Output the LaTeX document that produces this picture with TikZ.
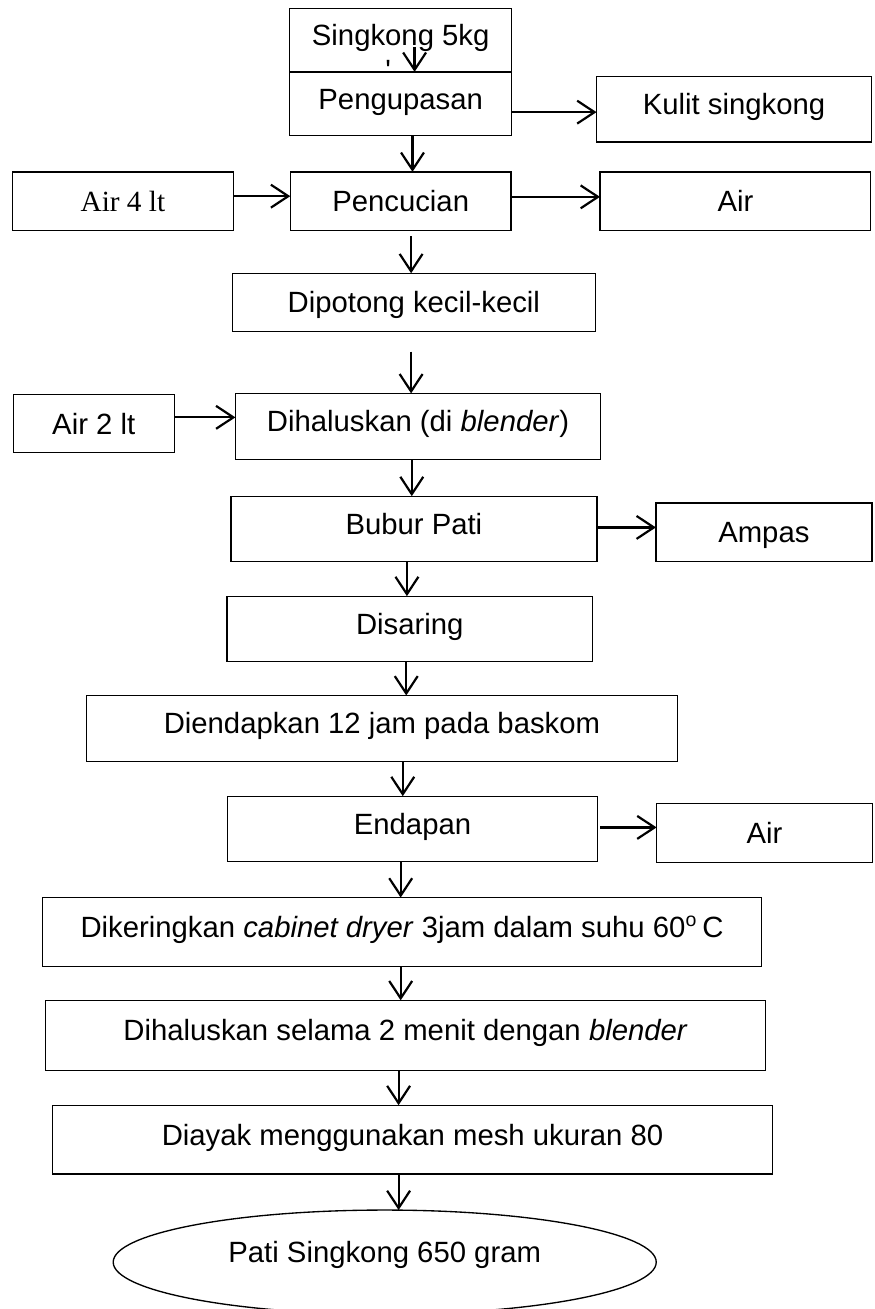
\documentclass[tikz,border=0pt]{standalone}
\usepackage{fontspec}
\setmainfont{Liberation Sans}
\newfontfamily\timesfont{Liberation Serif}
\usetikzlibrary{arrows.meta,positioning,shapes.geometric}

\begin{document}
\begin{tikzpicture}[
    n/.style={draw,line width=0.55pt,minimum height=0.94cm,inner sep=0pt,outer sep=0pt,
              align=center,font=\fontsize{12pt}{14pt}\selectfont,
              text height=9pt,text depth=4.5pt},
    ctr/.style={text depth=0.4pt},
    el/.style={draw,ellipse,line width=0.55pt,inner sep=0pt,outer sep=0pt,
               font=\fontsize{12pt}{14pt}\selectfont,
               text height=9pt,text depth=8.6pt},
    a/.style={-{Straight Barb[length=2.5mm,width=3.3mm]},line width=0.9pt}
  ]
  \useasboundingbox (0,0) rectangle (12.59,-18.85);
  \clip (0,0) rectangle (12.59,-18.85);

  \node[n, minimum width=3.20cm, minimum height=0.91cm] (singkong) at (5.77,-0.58) {Singkong 5kg};
  \node[anchor=north, inner sep=0pt, font=\fontsize{12pt}{14pt}\selectfont] (tick) at (5.59,-0.86) {\textquotesingle};
  \node[n, minimum width=3.20cm, minimum height=0.92cm, below=0pt of singkong] (kupas) {Pengupasan};
  \node[n, minimum width=3.96cm, right=1.22cm of kupas, yshift=-0.08cm] (kulit) {Kulit singkong};
  \node[n, ctr, minimum width=3.18cm, minimum height=0.84cm, below=0.52cm of kupas] (cuci) {Pencucian};
  \node[n, ctr, minimum width=3.18cm, minimum height=0.84cm, left=0.82cm of cuci] (air4) {\timesfont Air 4 lt};
  \node[n, ctr, minimum width=3.90cm, minimum height=0.84cm, right=1.28cm of cuci] (airsatu) {Air};
  \node[n, ctr, minimum width=5.23cm, minimum height=0.84cm, below=0.62cm of cuci, xshift=0.19cm] (potong) {Dipotong kecil-kecil};
  \node[n, minimum width=5.26cm, minimum height=0.95cm, below=0.89cm of potong, xshift=0.06cm] (halus) {Dihaluskan (di \textit{blender})};
  \node[n, ctr, minimum width=2.32cm, minimum height=0.84cm, left=0.88cm of halus, yshift=0.04cm] (air2) {Air 2 lt};
  \node[n, minimum width=5.27cm, below=0.53cm of halus, xshift=-0.06cm] (bubur) {Bubur Pati};
  \node[n, ctr, minimum width=3.11cm, minimum height=0.84cm, right=0.85cm of bubur, yshift=-0.05cm] (ampas) {Ampas};
  \node[n, minimum width=5.26cm, below=0.50cm of bubur, xshift=-0.06cm] (saring) {Disaring};
  \node[n, minimum width=8.51cm, minimum height=0.95cm, below=0.49cm of saring, xshift=-0.40cm] (endap) {Diendapkan 12 jam pada baskom};
  \node[n, minimum width=5.33cm, below=0.50cm of endap, xshift=0.44cm] (endapan) {Endapan};
  \node[n, ctr, minimum width=3.11cm, minimum height=0.85cm, right=0.85cm of endapan, yshift=-0.06cm] (airdua) {Air};
  \node[n, minimum width=10.35cm, minimum height=0.99cm, below=0.52cm of endapan, xshift=-0.15cm] (kering) {Dikeringkan \textit{cabinet dryer} 3jam dalam suhu 60\textsuperscript{o}\,C};
  \node[n, minimum width=10.37cm, minimum height=1.01cm, below=0.49cm of kering, xshift=0.05cm] (halusdua) {Dihaluskan selama 2 menit dengan \textit{blender}};
  \node[n, minimum width=10.37cm, minimum height=0.99cm, below=0.50cm of halusdua, xshift=0.10cm] (ayak) {Diayak menggunakan mesh ukuran 80};
  \node[el, minimum width=7.82cm, minimum height=1.50cm, below=0.52cm of ayak, xshift=-0.40cm] (pati) {Pati Singkong 650 gram};

  \draw[a] ([xshift=0.20cm,yshift=0.36cm]singkong.south) -- ([xshift=0.20cm]kupas.north);
  \draw[a] ([yshift=-0.12cm]kupas.east) -- ([yshift=-0.12cm]kupas.east -| kulit.west);
  \draw[a] ([xshift=0.17cm]kupas.south) -- ([xshift=0.17cm]cuci.north);
  \draw[a] ([yshift=0.07cm]air4.east) -- ([yshift=0.07cm]cuci.west);
  \draw[a] ([yshift=0.06cm]cuci.east) -- ([yshift=0.06cm]airsatu.west);
  \draw[a] ([xshift=0.15cm,yshift=-0.09cm]cuci.south) -- ([xshift=0.15cm]cuci.south |- potong.north);
  \draw[a] ([xshift=-0.04cm,yshift=-0.29cm]potong.south) -- ([xshift=-0.04cm]potong.south |- halus.north);
  \draw[a] ([yshift=0.09cm]air2.east) -- ([yshift=0.09cm]air2.east -| halus.west);
  \draw[a] ([xshift=-0.09cm]halus.south) -- ([xshift=-0.09cm]halus.south |- bubur.north);
  \draw[a] ([yshift=0.02cm]bubur.east) -- ([yshift=0.02cm]bubur.east -| ampas.west);
  \draw[a] ([xshift=-0.10cm]bubur.south) -- ([xshift=-0.10cm]bubur.south |- saring.north);
  \draw[a] ([xshift=-0.05cm]saring.south) -- ([xshift=-0.05cm]saring.south |- endap.north);
  \draw[a] ([xshift=0.30cm]endap.south) -- ([xshift=0.30cm]endap.south |- endapan.north);
  \draw[a] ([xshift=0.04cm,yshift=0.02cm]endapan.east) -- ([yshift=0.02cm]endapan.east -| airdua.west);
  \draw[a] ([xshift=-0.17cm]endapan.south) -- ([xshift=-0.17cm]endapan.south |- kering.north);
  \draw[a] ([xshift=-0.02cm]kering.south) -- ([xshift=-0.02cm]kering.south |- halusdua.north);
  \draw[a] ([xshift=-0.10cm]halusdua.south) -- ([xshift=-0.10cm]halusdua.south |- ayak.north);
  \draw[a] ([xshift=-0.20cm]ayak.south) -- ([xshift=-0.20cm]ayak.south |- pati.north);
\end{tikzpicture}
\end{document}
